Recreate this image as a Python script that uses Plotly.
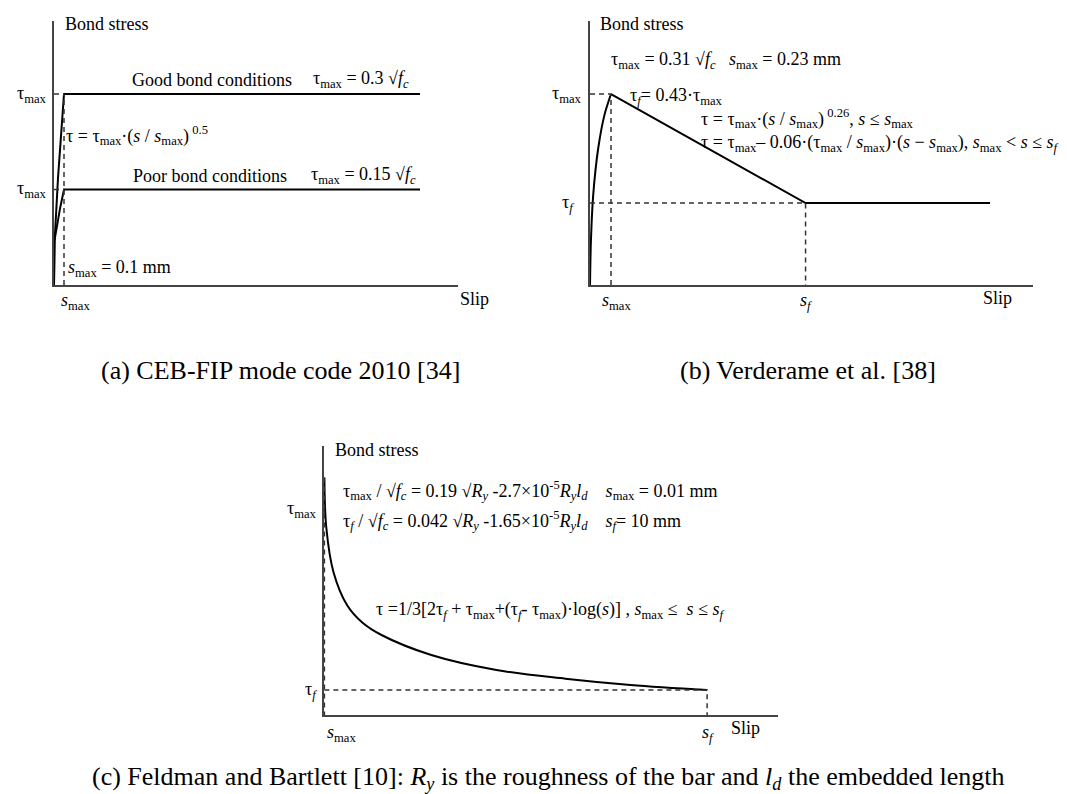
import plotly.graph_objects as go

# ---------------- data ----------------
# Panel (a) CEB-FIP 2010: slip in mm, bond stress in units of sqrt(fc)
a_good_slip = [0.0, 0.005, 0.04, 0.07, 0.1, 3.66]
a_good_stress = [0.0, 0.066, 0.168, 0.237, 0.30, 0.30]
a_poor_slip = [0.0, 0.005, 0.06, 0.1, 3.66]
a_poor_stress = [0.0, 0.07, 0.12, 0.15, 0.15]
a_smax = 0.1
a_tau_levels = [0.30, 0.15]

# Panel (b) Verderame et al.
b_rise_slip = [0.0, 0.01, 0.035, 0.09, 0.16, 0.23]
b_rise_stress = [0.0, 0.071, 0.146, 0.222, 0.277, 0.31]
b_soft_slip = [0.23, 2.36, 4.38]
b_soft_stress = [0.31, 0.133, 0.133]
b_smax, b_sf = 0.23, 2.36
b_tmax, b_tf = 0.31, 0.133

# Panel (c) Feldman and Bartlett
c_slip = [0.01, 0.06, 0.25, 0.6, 1.0, 1.5, 2.8, 4.5, 6.3, 8.0, 10.0]
c_stress = [9.5, 7.5, 5.7, 4.4, 3.7, 3.2, 2.4, 1.8, 1.45, 1.2, 1.0]
c_smax, c_sf = 0.01, 10.0
c_tmax_label, c_tf = 8.2, 1.0

W, H = 1067, 794
FONT = "Liberation Serif, Times New Roman, serif"
FS = 18
AX = "#444444"
DASH = dict(color="#333333", width=1.5, dash="5px,4px")
SOLID = dict(color="black", width=2)


def px(x):
    return x / W


def py(y):
    return 1 - y / H


fig = go.Figure()

# ---- panel (a)
fig.add_trace(go.Scatter(x=a_good_slip, y=a_good_stress, mode="lines",
                         line=SOLID, xaxis="x", yaxis="y"))
fig.add_trace(go.Scatter(x=a_poor_slip, y=a_poor_stress, mode="lines",
                         line=SOLID, xaxis="x", yaxis="y"))
fig.add_trace(go.Scatter(x=[a_smax, a_smax], y=[0, a_tau_levels[0]], mode="lines",
                         line=DASH, xaxis="x", yaxis="y"))
for t in a_tau_levels:
    fig.add_trace(go.Scatter(x=[0, a_smax], y=[t, t], mode="lines",
                             line=DASH, xaxis="x", yaxis="y"))

# ---- panel (b)
fig.add_trace(go.Scatter(x=b_rise_slip, y=b_rise_stress, mode="lines",
                         line=dict(SOLID, shape="spline", smoothing=0.8),
                         xaxis="x2", yaxis="y2"))
fig.add_trace(go.Scatter(x=b_soft_slip, y=b_soft_stress, mode="lines",
                         line=SOLID, xaxis="x2", yaxis="y2"))
fig.add_trace(go.Scatter(x=[0, b_smax, b_smax], y=[b_tmax, b_tmax, 0], mode="lines",
                         line=DASH, xaxis="x2", yaxis="y2"))
fig.add_trace(go.Scatter(x=[0, b_sf, b_sf], y=[b_tf, b_tf, 0], mode="lines",
                         line=DASH, xaxis="x2", yaxis="y2"))

# ---- panel (c)
fig.add_trace(go.Scatter(x=c_slip, y=c_stress, mode="lines",
                         line=dict(SOLID, shape="spline", smoothing=1.0),
                         xaxis="x3", yaxis="y3"))
fig.add_trace(go.Scatter(x=[c_smax, c_smax], y=[c_stress[0], 0], mode="lines",
                         line=DASH, xaxis="x3", yaxis="y3"))
fig.add_trace(go.Scatter(x=[c_smax, c_sf, c_sf], y=[c_tf, c_tf, 0], mode="lines",
                         line=DASH, xaxis="x3", yaxis="y3"))

axcommon = dict(showline=True, linecolor=AX, linewidth=1.5, showgrid=False,
                zeroline=False, showticklabels=False, ticks="", fixedrange=True)

fig.update_layout(
    width=W, height=H, margin=dict(l=0, r=0, t=0, b=0),
    paper_bgcolor="white", plot_bgcolor="rgba(0,0,0,0)", showlegend=False,
    font=dict(family=FONT, size=FS, color="black"),
    xaxis=dict(axcommon, domain=[px(46), px(450)], range=[0, 4.04], anchor="y"),
    yaxis=dict(axcommon, domain=[py(277), py(13)], range=[0, 0.4147], anchor="x"),
    xaxis2=dict(axcommon, domain=[px(582), px(1025)], range=[0, 4.85], anchor="y2"),
    yaxis2=dict(axcommon, domain=[py(277), py(13)], range=[0, 0.4286], anchor="x2"),
    xaxis3=dict(axcommon, domain=[px(316), px(770)], range=[0, 11.85], anchor="y3"),
    yaxis3=dict(axcommon, domain=[py(707), py(438)], range=[0, 10.76], anchor="x3"),
)

TMAX = "τ<sub>max</sub>"
TF = "τ<sub><i>f</i></sub>"
SMAX = "<i>s</i><sub>max</sub>"
SF = "<i>s</i><sub><i>f</i></sub>"
SQFC = "√<i>f</i><sub><i>c</i></sub>"
RY = "<i>R</i><sub><i>y</i></sub>"
LD = "<i>l</i><sub><i>d</i></sub>"
SP = "\u00a0"

anns = []


def paper(text, x, y, xanchor="left", size=FS):
    anns.append(dict(text=text, x=px(x), y=py(y), xref="paper", yref="paper",
                     xanchor=xanchor, yanchor="middle", showarrow=False,
                     font=dict(family=FONT, size=size, color="black")))


def data(text, x, y, xr, yr, xanchor="center", xshift=0, yshift=0, size=FS):
    anns.append(dict(text=text, x=x, y=y, xref=xr, yref=yr, xanchor=xanchor,
                     yanchor="middle", xshift=xshift, yshift=yshift,
                     showarrow=False, font=dict(family=FONT, size=size, color="black")))


# panel (a) texts
paper("Bond stress", 55, 16)
paper("Good bond conditions", 122, 72)
paper(f"{TMAX} = 0.3 {SQFC}", 303, 72)
paper(f"τ = {TMAX}·(<i>s</i> / {SMAX})<sup> 0.5</sup>", 56, 128)
paper("Poor bond conditions", 123, 168)
paper(f"{TMAX} = 0.15 {SQFC}", 301, 168)
paper(f"{SMAX} = 0.1 mm", 58, 260)
for t in a_tau_levels:
    data(TMAX, 0, t, "x", "y", xanchor="right", xshift=-5)
data(SMAX, a_smax, 0, "x", "y", xshift=11, yshift=-17)
paper("Slip", 450, 291)

# panel (b) texts
paper("Bond stress", 590, 16)
paper(f"{TMAX} = 0.31 {SQFC}{SP*3}{SMAX} = 0.23 mm", 601, 52)
data(TMAX, 0, b_tmax, "x2", "y2", xanchor="right", xshift=-6)
data(TF, 0, b_tf, "x2", "y2", xanchor="right", xshift=-14)
paper(f"{TF}= 0.43·{TMAX}", 620, 89)
paper(f"τ = {TMAX}·(<i>s</i> / {SMAX})<sup> 0.26</sup>, <i>s</i> ≤ {SMAX}", 691, 110)
paper(f"τ = {TMAX}– 0.06·({TMAX} / {SMAX})·(<i>s</i> − {SMAX}), {SMAX} &lt; <i>s</i> ≤ {SF}",
      691, 135)
data(SMAX, b_smax, 0, "x2", "y2", xshift=5, yshift=-17)
data(SF, b_sf, 0, "x2", "y2", yshift=-17)
paper("Slip", 973, 290)

# panel (c) texts
paper("Bond stress", 325, 442)
paper(f"{TMAX} / {SQFC} = 0.19 √{RY} -2.7×10<sup>-5</sup>{RY}{LD}{SP*4}{SMAX} = 0.01 mm", 333, 483)
paper(f"{TF} / {SQFC} = 0.042 √{RY} -1.65×10<sup>-5</sup>{RY}{LD}{SP*4}{SF}= 10 mm", 333, 512)
paper(f"τ =1/3[2{TF} + {TMAX}+({TF}- {TMAX})·log(<i>s</i>)] , {SMAX} ≤ {SP}<i>s</i> ≤ {SF}", 366, 602)
data(TMAX, 0, c_tmax_label, "x3", "y3", xanchor="right", xshift=-5)
data(TF, 0, c_tf, "x3", "y3", xanchor="right", xshift=-5)
data(SMAX, c_smax, 0, "x3", "y3", xshift=17, yshift=-18)
data(SF, c_sf, 0, "x3", "y3", xshift=1, yshift=-18)
paper("Slip", 721, 720)

# captions
CAP = 26
paper("(a) CEB-FIP mode code 2010 [34]", 272, 362, xanchor="center", size=CAP)
paper("(b) Verderame et al. [38]", 800, 362, xanchor="center", size=CAP)
paper("(c) Feldman and Bartlett [10]: <i>R</i><sub><i>y</i></sub> is the roughness of the bar and "
      "<i>l</i><sub><i>d</i></sub> the embedded length", 540, 770, xanchor="center", size=CAP)

fig.update_layout(annotations=anns)
fig.write_html("out.html")
